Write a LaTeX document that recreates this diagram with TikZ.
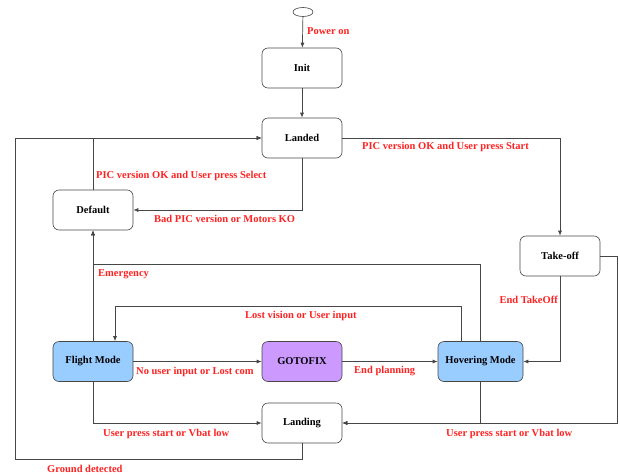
\documentclass[tikz,border=0pt]{standalone}
\usepackage{fontspec}
\setmainfont{Liberation Serif}
\usetikzlibrary{arrows.meta,shapes.geometric}
\definecolor{lblred}{RGB}{255,34,34}
\definecolor{bluefill}{RGB}{153,204,255}
\definecolor{purplefill}{RGB}{204,153,255}
\definecolor{edgegray}{RGB}{70,70,70}
\begin{document}
\begin{tikzpicture}[x=1pt,y=-1pt,
  state/.style={draw=edgegray, rounded corners=6pt, minimum width=80pt, minimum height=40pt,
    inner sep=0pt, line width=0.6pt, font=\fontsize{10.5}{12}\selectfont\bfseries},
  lbl/.style={text=lblred, inner sep=0pt, font=\fontsize{10.5}{12}\selectfont\bfseries},
  conn/.style={draw=edgegray, line width=0.7pt, -{Latex[length=5pt,width=4pt]}}]
\useasboundingbox (0,0) rectangle (620,474);
% nodes
\node[draw=edgegray, ellipse, minimum width=20pt, minimum height=9pt, inner sep=0pt, line width=0.6pt] (start) at (303,12) {};
\node[state] (init) at (302,68) {Init};
\node[state] (landed) at (302,138) {Landed};
\node[state] (default) at (93,210) {Default};
\node[state] (takeoff) at (560,256) {Take-off};
\node[state, fill=bluefill] (flight) at (93,361.5) {Flight Mode};
\node[state, fill=purplefill] (gotofix) at (302,361.5) {GOTOFIX};
\node[state, fill=bluefill, minimum width=85pt] (hover) at (480.5,361.5) {Hovering Mode};
\node[state] (landing) at (302,423) {Landing};
\coordinate (gl) at (15,459);
\coordinate (em) at (93,264);
\coordinate (lv) at (115,306);
\coordinate (tr) at (617,256);
% connectors
\draw[conn] (start) -- (init);
\draw[conn] (init) -- (landed);
\draw[conn] (landing.south) |- (gl) |- (landed.west);
\draw[conn] (default.north) |- (landed.west);
\draw[conn] (landed.south) |- (default.east);
\draw[conn] (landed.east) -| (takeoff.north);
\draw[conn] (takeoff.south) |- (hover.east);
\draw[conn] (takeoff.east) -- (tr) |- (landing.east);
\draw[conn] (hover.south) |- (landing.east);
\draw[conn] (hover.north) |- (em) -- (default.south);
\draw[conn] (flight.north) -- (default.south);
\draw[conn] ([xshift=-19pt]hover.north) |- (lv) -- (lv |- flight.north);
\draw[conn] (flight) -- (gotofix);
\draw[conn] (gotofix) -- (hover);
\draw[conn] (flight.south) |- (landing.west);
% labels
\node[lbl, anchor=west] (l1) at (307,31) {Power on};
\node[lbl, anchor=west] (l2) at (96,176) {PIC version OK and User press Select};
\node[lbl, anchor=west] (l3) at (154,219) {Bad PIC version or Motors KO};
\node[lbl, anchor=west] (l4) at (98,274) {Emergency};
\node[lbl, anchor=west] (l5) at (362,147) {PIC version OK and User press Start};
\node[lbl, anchor=east] (l6) at (558,300) {End TakeOff};
\node[lbl, anchor=west] (l7) at (245,316) {Lost vision or User input};
\node[lbl, anchor=west] (l8) at (136,371.5) {No user input or Lost com};
\node[lbl, anchor=west] (l9) at (354,371.5) {End planning};
\node[lbl, anchor=west] (l10) at (103,433.5) {User press start or Vbat low};
\node[lbl, anchor=west] (l11) at (446,433.5) {User press start or Vbat low};
\node[lbl, anchor=west] (l12) at (47,468.5) {Ground detected};
\end{tikzpicture}
\end{document}
